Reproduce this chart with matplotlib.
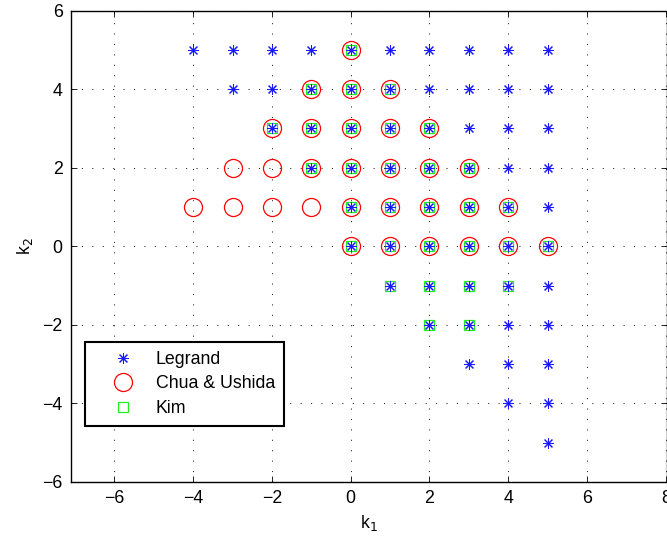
import matplotlib
matplotlib.use("Agg")
import matplotlib.pyplot as plt

plt.rcParams['font.family'] = ['Liberation Sans', 'DejaVu Sans']

# Legrand region (asterisks)
legrand_x = [-4, -3, -2, -1, 0, 1, 2, 3, 4, 5,
             -3, -2, -1, 0, 1, 2, 3, 4, 5,
             -2, -1, 0, 1, 2, 3, 4, 5,
             -1, 0, 1, 2, 3, 4, 5,
             0, 1, 2, 3, 4, 5,
             0, 1, 2, 3, 4, 5,
             1, 2, 3, 4, 5,
             2, 3, 4, 5,
             3, 4, 5,
             4, 5,
             5]
legrand_y = [5] * 10 + [4] * 9 + [3] * 8 + [2] * 7 + [1] * 6 + [0] * 6 + \
            [-1] * 5 + [-2] * 4 + [-3] * 3 + [-4] * 2 + [-5]

# Chua & Ushida region (circles)
chua_x = [0,
          -1, 0, 1,
          -2, -1, 0, 1, 2,
          -3, -2, -1, 0, 1, 2, 3,
          -4, -3, -2, -1, 0, 1, 2, 3, 4,
          0, 1, 2, 3, 4, 5]
chua_y = [5] + [4] * 3 + [3] * 5 + [2] * 7 + [1] * 9 + [0] * 6

# Kim region (squares)
kim_x = [0,
         -1, 0, 1,
         -2, -1, 0, 1, 2,
         -1, 0, 1, 2, 3,
         0, 1, 2, 3, 4,
         0, 1, 2, 3, 4, 5,
         1, 2, 3, 4,
         2, 3]
kim_y = [5] + [4] * 3 + [3] * 5 + [2] * 5 + [1] * 5 + [0] * 6 + [-1] * 4 + [-2] * 2

fig = plt.figure(figsize=(6.67, 5.39), dpi=100)
ax = fig.add_axes([71 / 667, 57 / 539, 596 / 667, 471.5 / 539])

ax.plot(legrand_x, legrand_y, linestyle='none', marker=(8, 2, 0), markersize=7.8,
        markeredgewidth=0.75, color='#1a1aff', label='Legrand', zorder=3)
ax.plot(chua_x, chua_y, linestyle='none', marker='o', markersize=13,
        markerfacecolor='none', markeredgewidth=0.9, markeredgecolor='#ff0000',
        label='Chua & Ushida', zorder=2)
ax.plot(kim_x, kim_y, linestyle='none', marker='s', markersize=6.5,
        markerfacecolor='none', markeredgewidth=0.9, markeredgecolor='#22ee22',
        label='Kim', zorder=2)

ax.set_xlim(-7.1, 8.03)
ax.set_ylim(-6, 6)
ax.set_xticks([-6, -4, -2, 0, 2, 4, 6, 8])
ax.set_yticks([-6, -4, -2, 0, 2, 4, 6])
ax.set_xticklabels(['\u22126', '\u22124', '\u22122', '0', '2', '4', '6', '8'])
ax.set_yticklabels(['\u22126', '\u22124', '\u22122', '0', '2', '4', '6'])
ax.grid(True, linestyle=(0, (1, 9)), color='#222222', linewidth=0.75)
ax.tick_params(direction='in', length=4, width=0.6, labelsize=12.8,
               top=True, right=True, pad=6)
for s in ax.spines.values():
    s.set_linewidth(1.0)

ax.set_xlabel('k$_1$', fontsize=12.8, labelpad=4)
ax.set_ylabel('k$_2$', fontsize=12.8, labelpad=5)

leg = ax.legend(loc='upper left', bbox_to_anchor=(0.023, 0.297), borderaxespad=0,
                fontsize=12.8, fancybox=False, edgecolor='black', framealpha=1,
                borderpad=0.5, handletextpad=0.2, labelspacing=0.42,
                handlelength=3.3, markerscale=1.0)
leg.get_frame().set_linewidth(1.5)

fig.savefig('out.png', dpi=100)
